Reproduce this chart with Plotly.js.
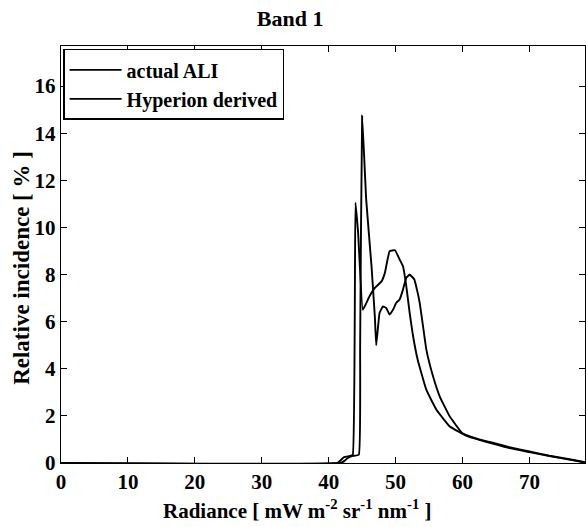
<!DOCTYPE html>
<html>
<head>
<meta charset="utf-8">
<script src="https://cdn.plot.ly/plotly-3.0.1.min.js"></script>
<style>html,body{margin:0;padding:0;background:#fff;}#chart{width:586px;height:527px;}</style>
</head>
<body>
<div id="chart"></div>
<script>
// Series: actual ALI (tall narrow peak)
const aliX = [0, 41.8, 42.4, 42.8, 43.6, 44.5, 44.7, 45.0, 45.6, 46.4, 46.9, 47.1, 47.6, 48.1, 48.6, 49.1, 49.6, 50.1, 50.6, 51.1, 51.6, 52.1, 52.8, 53.3, 53.6, 54.1, 54.6, 55.6, 56.6, 58.1, 60.0, 62.5, 64.5, 67.0, 70.0, 73.0, 76.4, 78.3];
const aliY = [0, 0, 0.1, 0.2, 0.3, 0.35, 5.0, 14.74, 11.2, 8.35, 6.2, 5.0, 6.37, 6.65, 6.58, 6.3, 6.5, 6.8, 6.94, 7.36, 7.86, 8.0, 7.79, 7.22, 6.8, 5.8, 4.8, 3.67, 2.82, 1.97, 1.26, 1.0, 0.86, 0.67, 0.49, 0.31, 0.14, 0.03];
// Series: Hyperion derived (11% peak, smooth hump)
const hypX = [0, 41.3, 41.8, 42.3, 43.2, 43.6, 44.0, 44.4, 45.1, 46.1, 46.9, 47.9, 48.4, 49.1, 49.9, 50.6, 51.1, 51.6, 52.1, 52.6, 53.3, 54.6, 56.1, 58.1, 60.6, 62.5, 64.5, 67.0, 70.0, 73.0, 76.4, 78.3];
const hypY = [0, 0, 0.12, 0.25, 0.3, 0.35, 11.05, 9.77, 6.5, 7.08, 7.43, 7.71, 8.07, 8.99, 9.03, 8.64, 8.35, 7.5, 6.37, 5.4, 4.38, 3.1, 2.26, 1.55, 1.15, 0.98, 0.82, 0.63, 0.46, 0.29, 0.12, 0.02];
const seriesNames = ['actual ALI', 'Hyperion derived'];
const xTicks = [0, 10, 20, 30, 40, 50, 60, 70];
const yTicks = [0, 2, 4, 6, 8, 10, 12, 14, 16];
const titleText = 'Band 1';
const xTitleText = 'Radiance [ mW m<sup>-2</sup> sr<sup>-1</sup> nm<sup>-1</sup> ]';
const yTitleText = 'Relative incidence [ % ]';

const font = {family: '"Liberation Serif", "Times New Roman", serif', color: '#000'};
const traces = [
  {x: aliX, y: aliY, name: seriesNames[0], mode: 'lines', line: {color: '#000', width: 1.9, shape: 'spline', smoothing: 0.3}},
  {x: hypX, y: hypY, name: seriesNames[1], mode: 'lines', line: {color: '#000', width: 1.9, shape: 'spline', smoothing: 0.3}}
];
const axisCommon = {
  showline: true, linecolor: '#000', linewidth: 1.2, mirror: 'allticks',
  ticks: 'inside', ticklen: 6, tickwidth: 1, tickcolor: '#000',
  showgrid: false, zeroline: false,
  tickfont: Object.assign({}, font, {size: 21, weight: 'bold'})
};
const layout = {
  width: 586, height: 527,
  margin: {l: 61, r: 1, t: 46, b: 64},
  paper_bgcolor: '#fff', plot_bgcolor: '#fff',
  font: font,
  title: {text: '<b>' + titleText + '</b>', x: 0.495, xanchor: 'center', y: 0.965, yanchor: 'middle', font: Object.assign({}, font, {size: 22})},
  xaxis: Object.assign({}, axisCommon, {
    range: [0, 78.3], tickvals: xTicks, ticktext: xTicks.map(String)
  }),
  yaxis: Object.assign({}, axisCommon, {
    range: [0, 17.7], tickvals: yTicks, ticktext: yTicks.map(String)
  }),
  annotations: [
    {text: '<b>' + xTitleText + '</b>', xref: 'paper', yref: 'paper', x: 0.452, y: -0.112, xanchor: 'center', yanchor: 'middle', showarrow: false, font: Object.assign({}, font, {size: 21})},
    {text: '<b>' + yTitleText + '</b>', xref: 'paper', yref: 'paper', x: -0.0744, y: 0.468, xanchor: 'center', yanchor: 'middle', textangle: -90, showarrow: false, font: Object.assign({}, font, {size: 23})}
  ],
  showlegend: true,
  legend: {
    x: 0.004, y: 0.993, xanchor: 'left', yanchor: 'top',
    bgcolor: '#fff', bordercolor: '#000', borderwidth: 1.5,
    font: Object.assign({}, font, {size: 20, weight: 'bold'}),
    tracegroupgap: 0, itemwidth: 52
  }
};
Plotly.newPlot('chart', traces, layout, {displayModeBar: false, staticPlot: true});
</script>
</body>
</html>
